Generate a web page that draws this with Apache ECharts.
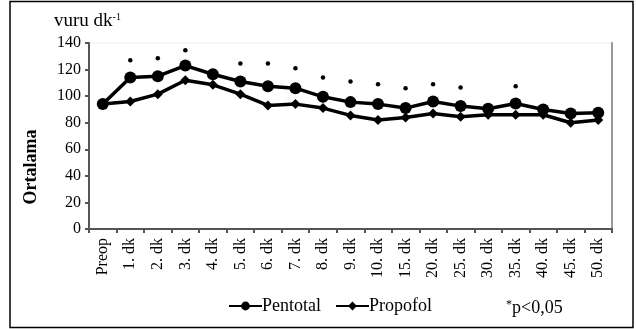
<!DOCTYPE html>
<html>
<head>
<meta charset="utf-8">
<script src="https://cdn.jsdelivr.net/npm/echarts@6/dist/echarts.min.js"></script>
<style>
  html, body { margin: 0; padding: 0; background: #fff; }
  #chart { width: 636px; height: 329px; }
</style>
</head>
<body>
<div id="chart"></div>
<script>
// zaman noktalari
var categories = ['Preop', '1. dk', '2. dk', '3. dk', '4. dk', '5. dk', '6. dk', '7. dk', '8. dk', '9. dk',
    '10. dk', '15. dk', '20. dk', '25. dk', '30. dk', '35. dk', '40. dk', '45. dk', '50. dk'];
var pentotal = [94, 114, 115, 123, 116.5, 111, 107.5, 106, 99.5, 95.5, 94, 91, 96, 92.5, 90.5, 94.5, 90, 87, 87.5];
var propofol = [94, 96, 101.5, 112, 108.5, 101.5, 93, 94, 91, 85.5, 82, 84, 87, 84.5, 86, 86, 86, 80, 82];
// anlamlilik isaretleri (*p<0,05)
var signif = [null, 127, 128.5, 134.5, null, 124.5, 124.5, 121, 114, 111, 109, 106, 109, 106.5, null, 107.5, null, null, null];
var yTicks = [0, 20, 40, 60, 80, 100, 120, 140];

var font = '"Liberation Serif", "DejaVu Serif", serif';
var chart = echarts.init(document.getElementById('chart'));

var option = {
    animation: false,
    textStyle: { fontFamily: font, color: '#000' },
    grid: {
        left: 89, right: 24, top: 43, bottom: 100,
        show: true, borderColor: '#eeeeee', borderWidth: 1
    },
    xAxis: {
        type: 'category',
        data: categories,
        boundaryGap: true,
        axisLine: { lineStyle: { color: '#555', width: 2 } },
        axisTick: { show: true, length: 4, lineStyle: { color: '#555', width: 2 } },
        axisLabel: { rotate: 90, fontSize: 16, fontFamily: font, color: '#000', margin: 9, interval: 0 }
    },
    yAxis: [
        {
            type: 'value',
            min: yTicks[0],
            max: yTicks[yTicks.length - 1],
            interval: 20,
            axisLine: { show: true, lineStyle: { color: '#555', width: 2 } },
            axisTick: { show: true, length: 4, lineStyle: { color: '#555', width: 2 } },
            axisLabel: { fontSize: 16, fontFamily: font, color: '#000', margin: 8 },
            splitLine: { show: false }
        },
        {
            type: 'value',
            min: 0, max: 140,
            position: 'right',
            axisLine: { show: true, lineStyle: { color: '#999', width: 2 } },
            axisTick: { show: false },
            axisLabel: { show: false },
            splitLine: { show: false }
        }
    ],
    legend: {
        bottom: 9,
        left: 223,
        itemWidth: 33,
        itemHeight: 11,
        itemGap: 14,
        textStyle: { fontSize: 18, fontFamily: font, color: '#000', padding: [0, 0, 0, -5] },
        data: ['Pentotal', 'Propofol']
    },
    graphic: [
        {
            type: 'rect',
            shape: { x: 10, y: 1.5, width: 623, height: 326 },
            style: { fill: 'none', stroke: '#000', lineWidth: 1.5 },
            silent: true
        },
        {
            type: 'text',
            x: 31, y: 167,
            rotation: Math.PI / 2,
            style: {
                text: 'Ortalama',
                fontSize: 18, fontWeight: 'bold', fontFamily: font, fill: '#000',
                align: 'center', verticalAlign: 'middle'
            }
        },
        {
            type: 'text',
            left: 54, top: 12,
            style: {
                text: '{a|vuru dk}{s|-1}',
                rich: {
                    a: { fontSize: 19, fontFamily: font, fill: '#000' },
                    s: { fontSize: 10, fontFamily: font, fill: '#000', padding: [0, 0, 9, 0] }
                }
            }
        },
        {
            type: 'text',
            left: 506, top: 299,
            style: {
                text: '{s|*}{a|p<0,05}',
                rich: {
                    a: { fontSize: 18, fontFamily: font, fill: '#000' },
                    s: { fontSize: 12, fontFamily: font, fill: '#000', padding: [0, 0, 7, 0] }
                }
            }
        }
    ],
    series: [
        {
            name: 'Pentotal',
            type: 'line',
            data: pentotal,
            symbol: 'circle',
            symbolSize: 12,
            itemStyle: { color: '#000' },
            lineStyle: { color: '#000', width: 3.5 },
            z: 3
        },
        {
            name: 'Propofol',
            type: 'line',
            data: propofol,
            symbol: 'diamond',
            symbolSize: 10,
            itemStyle: { color: '#000' },
            lineStyle: { color: '#000', width: 3.5 },
            z: 2
        },
        {
            name: 'p',
            type: 'scatter',
            data: signif,
            symbol: 'circle',
            symbolSize: 4.5,
            itemStyle: { color: '#000', opacity: 1 }
        }
    ]
};

chart.setOption(option);
</script>
</body>
</html>
